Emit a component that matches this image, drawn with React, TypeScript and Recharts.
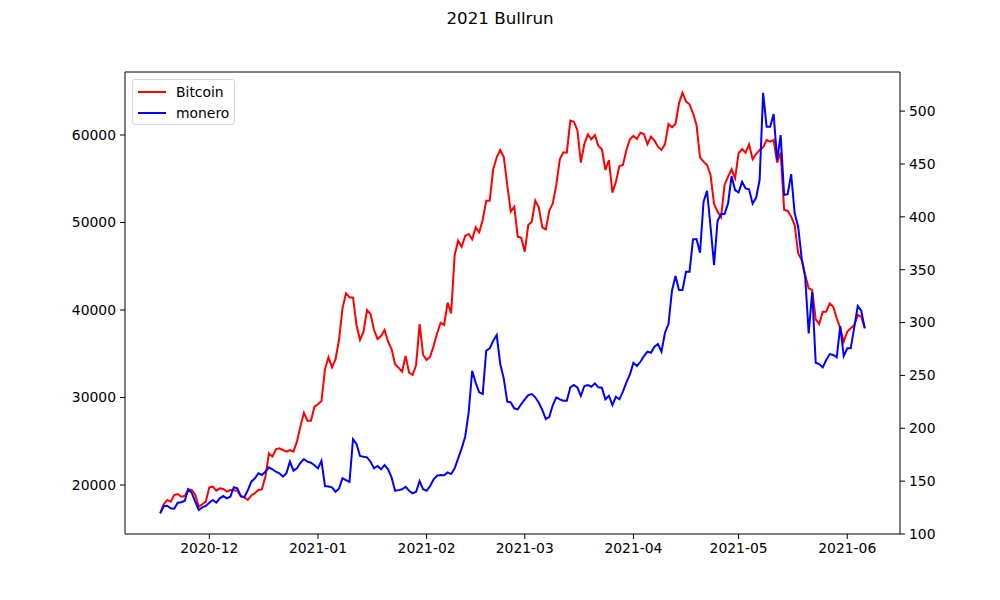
import React from "react"
import {LineChart, Line, XAxis, YAxis, Legend, ReferenceLine} from 'recharts';

// daily values from 2020-11-17 to 2021-06-06
const startDay = "2020-11-17";

const bitcoin = [
    16760, 17800, 18290, 18100, 18860, 18970, 18670, 18740, 19500, 19430,
    18860, 17520, 17800, 18100, 19730, 19810, 19350, 19620, 19540, 19240,
    19430, 19400, 19350, 18670, 18590, 18290, 18800, 19050, 19430, 19500,
    20950, 23620, 23240, 24080, 24190, 24000, 23810, 24000, 23810, 24950,
    26700, 28260, 27350, 27350, 28950, 29220, 29600, 33220, 34590, 33450,
    34360, 36570, 40190, 41910, 41450, 41410, 38290, 36570, 37520, 40000,
    39540, 37710, 36690, 37030, 37710, 36380, 35540, 33790, 33410, 32950,
    34740, 32830, 32570, 33710, 38400, 34860, 34290, 34670, 35890, 37340,
    38550, 38290, 40840, 39620, 46290, 47920, 47230, 48460, 48690, 48080,
    49450, 48880, 50290, 52490, 52490, 56080, 57450, 58290, 57520, 54290,
    51240, 51810, 48380, 48260, 46660, 49710, 50090, 52490, 51730, 49450,
    49220, 51350, 52190, 54290, 57220, 58020, 57980, 61640, 61520, 60570,
    56840, 58970, 60080, 59510, 60000, 58740, 58400, 56000, 57140, 53410,
    54660, 56460, 56570, 58290, 59510, 59890, 59540, 60260, 60110, 58930,
    59810, 59350, 58670, 58290, 58930, 61260, 60880, 61260, 63620, 64840,
    63810, 63510, 62480, 61140, 57450, 56950, 56570, 55430, 52110, 51240,
    50600, 54290, 55240, 56080, 55050, 57910, 58400, 57980, 58930, 57220,
    57830, 58290, 58590, 59430, 59240, 59430, 56840, 57980, 51430, 51350,
    50670, 49710, 46480, 45710, 44000, 42480, 42290, 38930, 38400, 39810,
    39810, 40760, 40380, 39050, 37910, 36380, 37520, 37910, 38290, 39430,
    39240, 37910
];

const monero = [
    119.6, 126.5, 126.8, 124.3, 123.9, 129.6, 130.0, 131.5, 142.3, 139.0,
    130.5, 122.7, 125.2, 126.5, 129.6, 132.2, 129.6, 133.7, 135.9, 133.7,
    135.3, 144.2, 143.2, 135.9, 134.7, 141.6, 149.5, 152.7, 157.4, 155.8,
    158.9, 163.1, 161.2, 158.9, 157.4, 154.2, 157.4, 168.4, 159.9, 162.1,
    167.4, 170.9, 168.4, 167.4, 165.0, 162.0, 169.3, 145.4, 145.0, 144.2,
    140.0, 142.8, 152.7, 151.0, 149.2, 189.6, 185.1, 173.8, 173.0, 172.5,
    168.4, 162.1, 164.3, 161.2, 165.2, 161.2, 153.6, 140.9, 141.5, 142.3,
    144.7, 140.9, 138.5, 140.0, 150.1, 142.3, 140.9, 145.4, 151.7, 155.1,
    155.8, 155.5, 158.3, 156.7, 162.1, 171.6, 181.0, 192.0, 215.0, 254.4,
    243.0, 234.0, 232.4, 273.3, 275.6, 282.8, 288.2, 260.8, 247.2, 225.1,
    224.5, 218.9, 217.9, 222.9, 227.4, 231.4, 232.4, 229.3, 224.2, 217.3,
    208.7, 210.9, 222.0, 229.3, 227.4, 226.1, 226.1, 238.7, 240.9, 238.7,
    230.5, 240.0, 240.9, 239.3, 242.5, 238.7, 238.3, 227.4, 230.8, 222.0,
    229.8, 227.4, 234.6, 243.5, 251.0, 262.0, 258.9, 262.9, 268.3, 272.4,
    271.4, 277.1, 279.7, 272.4, 290.4, 298.6, 330.1, 344.0, 330.7, 330.7,
    348.0, 348.0, 378.7, 379.0, 366.0, 414.2, 424.6, 390.6, 354.4, 396.3,
    402.6, 402.6, 412.7, 438.5, 425.3, 423.1, 433.1, 426.9, 426.0, 412.5,
    418.0, 434.8, 517.3, 485.2, 485.2, 497.2, 453.7, 477.3, 420.6, 421.5,
    440.4, 403.3, 390.6, 360.7, 343.3, 289.8, 329.1, 262.0, 260.8, 257.6,
    264.5, 270.2, 269.3, 267.1, 296.7, 268.3, 275.6, 275.6, 295.5, 315.6,
    311.2, 294.5
];

const monthTicks = ["2020-12", "2021-01", "2021-02", "2021-03", "2021-04", "2021-05", "2021-06"];
const btcTicks = [20000, 30000, 40000, 50000, 60000];
const xmrTicks = [100, 150, 200, 250, 300, 350, 400, 450, 500];

const DAY = 86400000;
const t0 = Date.parse(startDay + "T00:00:00Z");
const rows = bitcoin.map((v, i) => ({t: t0 + i * DAY, btc: v, xmr: monero[i]}));
const pad = (rows.length - 1) * DAY * 0.05;
const xDomain = [t0 - pad, rows[rows.length - 1].t + pad];
const xTicks = monthTicks.map(m => Date.parse(m + "-01T00:00:00Z"));

const fmtMonth = (t: number) => {
    const d = new Date(t);
    return d.getUTCFullYear() + "-" + String(d.getUTCMonth() + 1).padStart(2, "0");
};

const font = "DejaVu Sans";
const tickStyle = {fill: "#000", fontSize: 13.9, fontFamily: font};

const LegendBox = () => (
    <div style={{
        width: 101, height: 44, border: "1px solid #d6d6d6", borderRadius: 3,
        background: "rgba(255,255,255,0.8)", fontFamily: font, fontSize: 13.9, color: "#000",
        position: "relative"
    }}>
        {[["Bitcoin", "#ff0000"], ["monero", "#0000ff"]].map(([name, c], i) => (
            <div key={name} style={{position: "absolute", left: 5, top: 3 + i * 20.5, height: 18, display: "flex", alignItems: "center"}}>
                <div style={{width: 28, height: 2, background: c}}/>
                <span style={{marginLeft: 10}}>{name}</span>
            </div>
        ))}
    </div>
);

const App = () => {
    return (
        <div style={{position: "absolute", left: 0, top: 0, width: 1000, height: 600, background: "#fff"}}>
            <div style={{position: "absolute", left: 0, top: 8, width: 1000, textAlign: "center",
                fontFamily: font, fontSize: 16.7, color: "#000"}}>2021 Bullrun</div>
            <LineChart width={1000} height={600} data={rows}
                       margin={{top: 72, right: 50, bottom: 36, left: 65}}>
                <XAxis dataKey="t" type="number" domain={xDomain} ticks={xTicks} tickFormatter={fmtMonth}
                       allowDataOverflow height={30} tickSize={5} tickMargin={4} tick={tickStyle}
                       stroke="#000" tickLine={{stroke: "#000"}}/>
                <YAxis yAxisId="l" domain={[14400, 67200]} ticks={btcTicks} allowDataOverflow width={60}
                       tickSize={5} tickMargin={4} tick={tickStyle} stroke="#000"/>
                <YAxis yAxisId="r" orientation="right" domain={[100, 537]} ticks={xmrTicks} allowDataOverflow
                       width={50} tickSize={5} tickMargin={4} tick={tickStyle} stroke="#000"/>
                <ReferenceLine yAxisId="l" y={67200} stroke="#000" ifOverflow="extendDomain"/>
                <Line yAxisId="l" dataKey="btc" name="Bitcoin" stroke="#ff0000" strokeWidth={2}
                      dot={false} isAnimationActive={false}/>
                <Line yAxisId="r" dataKey="xmr" name="monero" stroke="#0000ff" strokeWidth={2}
                      dot={false} isAnimationActive={false}/>
                <Legend layout="horizontal" verticalAlign="middle" align="center" content={() => <LegendBox/>}
                        wrapperStyle={{left: 132, top: 79, width: "auto"}}/>
            </LineChart>
        </div>
    )
};

export default App;
